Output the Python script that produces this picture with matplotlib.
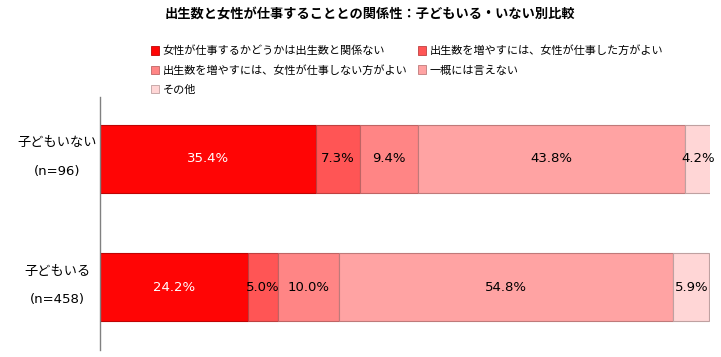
import matplotlib.pyplot as plt
import matplotlib.colors as mcolors
from matplotlib.patches import Patch
import numpy as np

plt.rcParams['font.family'] = ['Noto Sans CJK JP', 'DejaVu Sans']

# data
groups = ['子どもいない', '子どもいる']
group_n = ['(n=96)', '(n=458)']
categories = [
    '女性が仕事するかどうかは出生数と関係ない',
    '出生数を増やすには、女性が仕事した方がよい',
    '出生数を増やすには、女性が仕事しない方がよい',
    '一概には言えない',
    'その他',
]
values = [
    [35.4, 7.3, 9.4, 43.8, 4.2],   # 子どもいない
    [24.2, 5.0, 10.0, 54.8, 5.9],  # 子どもいる
]
colors = ['#FF0505', '#FF5555', '#FF8585', '#FFA3A3', '#FFD6D6']
label_colors = ['white', 'black', 'black', 'black', 'black']

fig = plt.figure(figsize=(7.21, 3.57), dpi=100)
ax = fig.add_axes([100 / 721, 7 / 357, 610 / 721, 253 / 357])

vals = np.array(values)
y = np.arange(len(groups))
left = np.zeros(len(groups))
handles = []
for j, cat in enumerate(categories):
    edge = np.array(mcolors.to_rgb(colors[j])) * 0.75
    bars = ax.barh(y, vals[:, j], left=left, height=0.53, color=colors[j],
                   edgecolor=edge, linewidth=0.8)
    for i, b in enumerate(bars):
        ax.text(left[i] + vals[i, j] / 2, y[i], f'{vals[i, j]:.1f}%',
                ha='center', va='center', fontsize=9.5, color=label_colors[j],
                family='DejaVu Sans')
    left += vals[:, j]
    handles.append(Patch(facecolor=colors[j], edgecolor=edge, linewidth=0.6, label=cat))

ax.set_xlim(0, 100)
ax.set_ylim(1.492, -0.484)
ax.set_xticks([])
ax.set_yticks([])
for s in ['top', 'right', 'bottom']:
    ax.spines[s].set_visible(False)
ax.spines['left'].set_color('#808080')
ax.spines['left'].set_linewidth(1.0)

ytr = ax.get_yaxis_transform()
for i in range(len(groups)):
    ax.text(-0.07, y[i] - 0.125, groups[i], transform=ytr,
            ha='center', va='center', fontsize=9.5)
    ax.text(-0.07, y[i] + 0.10, group_n[i], transform=ytr,
            ha='center', va='center', fontsize=9.5, family='DejaVu Sans')

fig.text(370 / 721, 1 - 14 / 357, '出生数と女性が仕事することとの関係性：子どもいる・いない別比較',
         ha='center', va='center', fontsize=9.5, fontweight='bold')

order = [0, 2, 4, 1, 3]
fig.legend([handles[k] for k in order], [categories[k] for k in order],
           ncol=2, loc='upper left', bbox_to_anchor=(145 / 721, 1 - 40 / 357),
           frameon=False, fontsize=8, handlelength=0.8, handleheight=0.8,
           handletextpad=0.3, columnspacing=0.9, labelspacing=0.8, borderpad=0)

fig.savefig('out.png', dpi=100)
